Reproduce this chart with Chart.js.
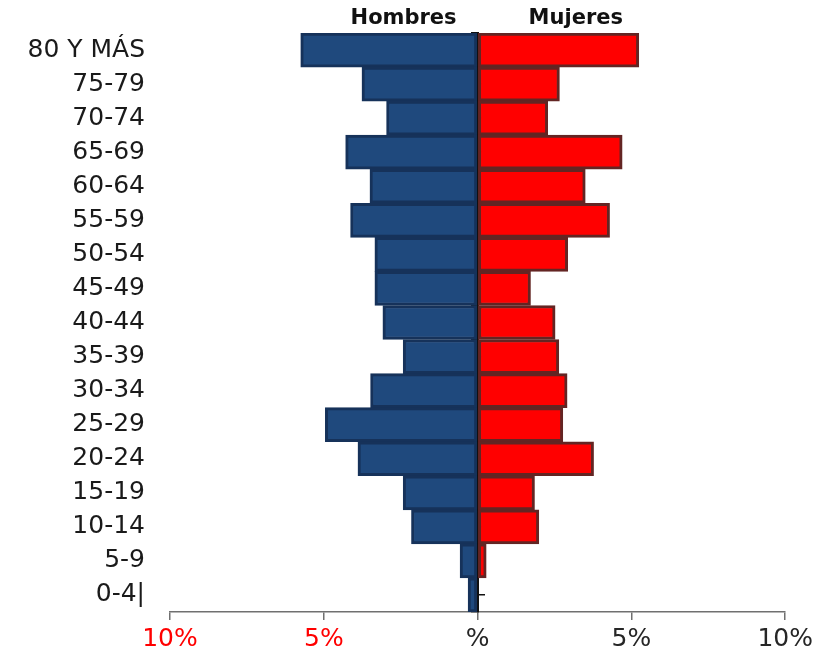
<!DOCTYPE html>
<html>
<head>
<meta charset="utf-8">
<script src="https://cdn.jsdelivr.net/npm/chart.js@4.4.1/dist/chart.umd.min.js"></script>
<style>
  html, body { margin: 0; padding: 0; background: #ffffff; }
  #wrap { width: 817px; height: 654px; }
</style>
</head>
<body>
<div id="wrap"><canvas id="pyramid" width="817" height="654"></canvas></div>
<script>
// Age groups, listed from the top row of the pyramid down
const ageGroups = ['80 Y MÁS', '75-79', '70-74', '65-69', '60-64', '55-59', '50-54', '45-49',
                   '40-44', '35-39', '30-34', '25-29', '20-24', '15-19', '10-14', '5-9', '0-4|'];

// Share of the population (%) in each age group
const hombres = [5.75, 3.76, 2.96, 4.29, 3.50, 4.13, 3.34, 3.34, 3.08, 2.42, 3.48, 4.95, 3.89, 2.42, 2.15, 0.57, 0.31];
const mujeres = [5.24, 2.66, 2.28, 4.70, 3.50, 4.29, 2.93, 1.72, 2.52, 2.64, 2.91, 2.77, 3.77, 1.85, 1.99, 0.28, 0.00];

const seriesNames = ['Hombres', 'Mujeres'];

// Percentage axis: men to the left of zero, women to the right
const xTickValues = [-10, -5, 0, 5, 10];
const xTickLabels = ['10%', '5%', '%', '5%', '10%'];

const FONT = 'DejaVu Sans';

// Column headers above each half of the pyramid
const sexHeaders = {
  id: 'sexHeaders',
  afterDraw(chart) {
    const { ctx, scales: { x } } = chart;
    const x0 = x.getPixelForValue(0);
    ctx.save();
    ctx.font = 'bold 21px "' + FONT + '"';
    ctx.fillStyle = '#111111';
    ctx.textBaseline = 'middle';
    ctx.textAlign = 'right';
    ctx.fillText(seriesNames[0], x0 - 21, 19);
    ctx.textAlign = 'left';
    ctx.fillText(seriesNames[1], x0 + 51, 19);
    ctx.restore();
  }
};

// category axes should not push the plot area away from the top/bottom edges
const noEdgePadding = s => { s.paddingTop = 0; s.paddingBottom = 0; };

new Chart(document.getElementById('pyramid'), {
  type: 'bar',
  data: {
    labels: ageGroups,
    datasets: [
      {
        label: seriesNames[0],
        data: hombres.map(v => -v),
        backgroundColor: '#1F497D',
        borderColor: '#16325A',
        borderWidth: 3,
        borderSkipped: false,
        barPercentage: 1,
        categoryPercentage: 1
      },
      {
        label: seriesNames[1],
        data: mujeres,
        backgroundColor: '#FF0000',
        borderColor: '#632523',
        borderWidth: 3,
        borderSkipped: false,
        barPercentage: 1,
        categoryPercentage: 1
      }
    ]
  },
  options: {
    indexAxis: 'y',
    responsive: false,
    devicePixelRatio: 1,
    animation: false,
    layout: { padding: { top: 33, right: 31, left: 0, bottom: 0 } },
    plugins: {
      legend: { display: false },
      tooltip: { enabled: false }
    },
    scales: {
      x: {
        type: 'linear',
        stacked: true,
        min: -10,
        max: 10,
        afterBuildTicks: s => { s.ticks = xTickValues.map(v => ({ value: v })); },
        afterFit: s => { s.height = 42; },
        ticks: {
          callback: v => xTickLabels[xTickValues.indexOf(v)],
          color: c => (c.tick && c.tick.value < 0) ? '#FF0000' : '#262626',
          font: { family: FONT, size: 25 },
          padding: 4
        },
        grid: { drawOnChartArea: false, drawTicks: true, tickLength: 8, color: '#707070', lineWidth: 1.5 },
        border: { color: '#707070', width: 1.5 }
      },
      y: {
        type: 'category',
        position: 'left',
        stacked: true,
        afterFit: s => { s.width = 170; noEdgePadding(s); },
        grid: { display: false },
        border: { display: false },
        ticks: {
          autoSkip: false,
          padding: 17,
          color: '#1A1A1A',
          font: { family: FONT, size: 25 }
        }
      },
      // central axis line with marks at the group boundaries (left side)
      yAxis: {
        type: 'category',
        position: { x: 0 },
        offset: true,
        z: 1,
        afterFit: noEdgePadding,
        ticks: { display: false },
        grid: { drawOnChartArea: false, offset: true, tickLength: 6, color: '#111111', lineWidth: 1.5 },
        border: { color: '#111111', width: 2 }
      },
      // marks at the group centres (right side)
      yMid: {
        type: 'category',
        position: { x: 0 },
        offset: true,
        z: 1,
        afterFit: noEdgePadding,
        ticks: { display: false },
        grid: { drawOnChartArea: false, offset: false, tickLength: -7, color: '#111111', lineWidth: 1.5 },
        border: { display: false }
      }
    }
  },
  plugins: [sexHeaders]
});
</script>
</body>
</html>
